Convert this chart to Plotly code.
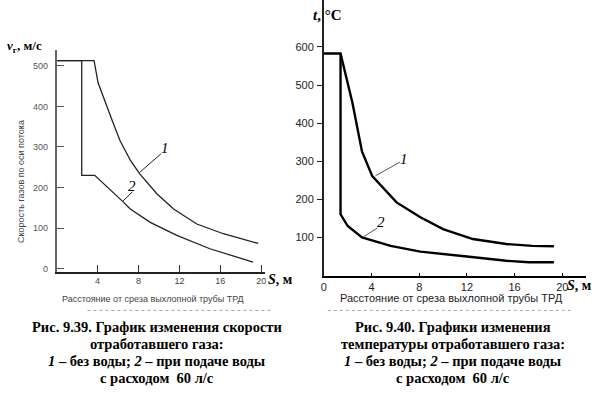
import plotly.graph_objects as go

W, H = 601, 396

# ---- Data: Fig 9.39 (velocity) ----
v_s1 = [0, 3.66, 4.05, 4.8, 5.45, 6.2, 7.23, 8.14, 9.82, 11.43, 13.7, 16.3, 19.7]
v_v1 = [513, 513, 458, 405, 364, 315, 266, 233, 184, 147, 110, 86, 62]
v_s2 = [0, 2.45, 2.45, 3.72, 6.4, 7.2, 9.15, 11.75, 14.98, 19.2]
v_v2 = [513, 513, 230, 230, 167, 147, 114, 82, 49, 16]
v_xticks = [4, 8, 12, 16, 20]
v_yticks = [0, 100, 200, 300, 400, 500]

# ---- Data: Fig 9.40 (temperature) ----
t_s1 = [0, 1.4, 2.4, 3.2, 4.06, 6.1, 8.1, 10, 12.5, 15.3, 17.5, 19.3]
t_t1 = [583, 583, 453, 326, 261, 192, 153, 122, 96, 83, 78, 77]
t_s2 = [1.4, 1.4, 2.0, 3.2, 5.6, 8.1, 12, 15.3, 17.2, 19.3]
t_t2 = [583, 161, 130, 100, 78, 63, 50, 39, 35, 35]
t_xticks = [0, 4, 8, 12, 16, 20]
t_yticks = [100, 200, 300, 400, 500, 600]

def X(px):
    return px / W

def Y(py):
    return 1 - py / H

fig = go.Figure()

# left chart curves
fig.add_trace(go.Scatter(x=v_s1, y=v_v1, mode="lines", line=dict(color="#222", width=1.3),
                         xaxis="x", yaxis="y", showlegend=False))
fig.add_trace(go.Scatter(x=v_s2, y=v_v2, mode="lines", line=dict(color="#222", width=1.3),
                         xaxis="x", yaxis="y", showlegend=False))
# leader lines left
fig.add_trace(go.Scatter(x=[8.1, 10.2], y=[237, 283], mode="lines", line=dict(color="#222", width=1),
                         xaxis="x", yaxis="y", showlegend=False))
fig.add_trace(go.Scatter(x=[6.5, 7.4], y=[167, 189], mode="lines", line=dict(color="#222", width=1),
                         xaxis="x", yaxis="y", showlegend=False))

# right chart curves
fig.add_trace(go.Scatter(x=t_s1, y=t_t1, mode="lines", line=dict(color="#000", width=2.4),
                         xaxis="x2", yaxis="y2", showlegend=False))
fig.add_trace(go.Scatter(x=t_s2, y=t_t2, mode="lines", line=dict(color="#000", width=2.4),
                         xaxis="x2", yaxis="y2", showlegend=False))
fig.add_trace(go.Scatter(x=[4.33, 6.4], y=[262, 298], mode="lines", line=dict(color="#555", width=1),
                         xaxis="x2", yaxis="y2", showlegend=False))
fig.add_trace(go.Scatter(x=[3.33, 4.5], y=[102, 125], mode="lines", line=dict(color="#555", width=1),
                         xaxis="x2", yaxis="y2", showlegend=False))

sans = "Liberation Sans, Arial, sans-serif"
serif = "Liberation Serif, Times New Roman, serif"

fig.update_layout(
    width=W, height=H, margin=dict(l=0, r=0, t=0, b=0),
    paper_bgcolor="white", plot_bgcolor="white",
    xaxis=dict(domain=[X(54), X(264)], range=[0, 20.39], anchor="y",
               tickvals=v_xticks, ticks="inside", ticklen=7, tickcolor="#333", tickwidth=1.3,
               showline=True, linecolor="#222", linewidth=1.5, showgrid=False, zeroline=False,
               tickfont=dict(family=sans, size=9, color="#444"), ticklabelstandoff=0),
    yaxis=dict(domain=[Y(273), Y(50)], range=[-7.4, 539.6], anchor="x",
               tickvals=v_yticks, ticks="inside", ticklen=8, tickcolor="#555", tickwidth=1.2,
               showline=True, linecolor="#666", linewidth=1.6, showgrid=False, zeroline=False,
               tickfont=dict(family=sans, size=9, color="#555"), ticklabelstandoff=5),
    xaxis2=dict(domain=[X(323), X(587)], range=[0, 22], anchor="y2",
                tickvals=t_xticks, ticks="inside", ticklen=3, tickcolor="#000", tickwidth=1.2,
                showline=True, linecolor="#000", linewidth=1.6, showgrid=False, zeroline=False,
                tickfont=dict(family=sans, size=11, color="#222"), ticklabelstandoff=0),
    yaxis2=dict(domain=[Y(277), 1], range=[0, 723.2], anchor="x2",
                tickvals=t_yticks, ticks="outside", ticklen=5, tickcolor="#222", tickwidth=1.2,
                showline=True, linecolor="#222", linewidth=1.6, showgrid=False, zeroline=False,
                tickfont=dict(family=sans, size=11, color="#222"), ticklabelstandoff=1),
)

ann = []

def txt(px, py, text, size, family=serif, color="#000", xanchor="center", angle=0):
    ann.append(dict(x=X(px), y=Y(py), xref="paper", yref="paper", text=text, showarrow=False,
                    xanchor=xanchor, yanchor="middle", textangle=angle,
                    font=dict(family=family, size=size, color=color)))

# left chart texts
txt(2, 47, "<b><i>v</i><sub>г</sub>, м/с</b>", 13, xanchor="left")
txt(18, 182, "Скорость газов по оси потока", 9, family=sans, color="#444", angle=-90)
txt(151, 301, "Расстояние от среза выхлопной трубы ТРД", 9, family=sans, color="#444")
txt(265, 281, "<b><i>S</i>, м</b>", 14, xanchor="left")
txt(163, 149, "<i>1</i>", 15)
txt(130, 187, "<i>2</i>", 15)

# right chart texts
txt(310, 15, "<b><i>t</i>, °C</b>", 15, xanchor="left")
txt(452, 300, "Расстояние от среза выхлопной трубы ТРД", 11, family=sans, color="#222")
txt(566, 287, "<b><i>S</i>, м</b>", 14, xanchor="left")
txt(404, 160, "<i>1</i>", 15)
txt(381, 223, "<i>2</i>", 15)

# captions
cap_y = [329, 346, 363, 380]
left_cap = ["<b>Рис. 9.39. График изменения скорости</b>",
            "<b>отработавшего газа:</b>",
            "<b><i>1</i> – без воды; <i>2</i> – при подаче воды</b>",
            "<b>с расходом  60 л/с</b>"]
right_cap = ["<b>Рис. 9.40. Графики изменения</b>",
             "<b>температуры отработавшего газа:</b>",
             "<b><i>1</i> – без воды; <i>2</i> – при подаче воды</b>",
             "<b>с расходом  60 л/с</b>"]
for yy, t in zip(cap_y, left_cap):
    txt(155, yy, t, 14.5)
for yy, t in zip(cap_y, right_cap):
    txt(453, yy, t, 14.5)

fig.update_layout(annotations=ann)

# faint dotted frame lines
fig.add_shape(type="line", xref="paper", yref="paper", x0=X(85), x1=X(270), y0=Y(312), y1=Y(312),
              line=dict(color="#aaa", width=1, dash="dot"))
fig.add_shape(type="line", xref="paper", yref="paper", x0=X(327), x1=X(573), y0=Y(312), y1=Y(312),
              line=dict(color="#aaa", width=1, dash="dot"))

fig.write_html("out.html", config={"displayModeBar": False},
               post_script="document.body.style.margin='0';document.body.style.overflow='hidden';")
